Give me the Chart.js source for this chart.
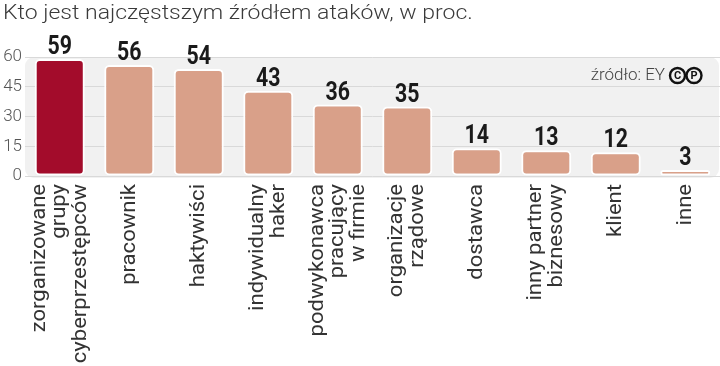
<!DOCTYPE html>
<html>
<head>
<meta charset="utf-8">
<script src="https://cdn.jsdelivr.net/npm/chart.js@4/dist/chart.umd.min.js"></script>
<style>
  html, body { margin: 0; padding: 0; background: #fff; }
  #wrap { width: 720px; height: 366px; }
</style>
</head>
<body>
<div id="wrap"><canvas id="chart"></canvas></div>
<script>
const title = 'Kto jest najczęstszym źródłem ataków, w proc.';
const source = 'źródło: EY';
const categories = [
    ['zorganizowane', 'grupy', 'cyberprzestępców'],
    ['pracownik'],
    ['haktywiści'],
    ['indywidualny', 'haker'],
    ['podwykonawca', 'pracujący', 'w firmie'],
    ['organizacje', 'rządowe'],
    ['dostawca'],
    ['inny partner', 'biznesowy'],
    ['klient'],
    ['inne']
];
const values = [59, 56, 54, 43, 36, 35, 14, 13, 12, 3];
const yTicks = [0, 15, 30, 45, 60];

const darkRed = '#a30c2b';
const salmon = '#d9a089';

// gray panel behind the plot, title, source note
const decorPlugin = {
    id: 'decor',
    beforeDraw(chart) {
        const { ctx, chartArea } = chart;
        ctx.save();
        ctx.fillStyle = '#f1f1f1';
        ctx.beginPath();
        ctx.roundRect(chartArea.left, chartArea.top, chartArea.right - chartArea.left - 1, chartArea.bottom - chartArea.top + 2, 9);
        ctx.fill();
        ctx.restore();
    },
    afterDraw(chart) {
        const { ctx, chartArea } = chart;
        ctx.save();
        ctx.fillStyle = '#3a3a3a';
        ctx.font = '300 20px Roboto';
        ctx.textBaseline = 'middle';
        ctx.textAlign = 'left';
        ctx.save();
        ctx.translate(3, 14);
        ctx.scale(1.15, 1);
        ctx.fillText(title, 0, 0);
        ctx.restore();

        ctx.font = '300 17px Roboto';
        ctx.textAlign = 'right';
        ctx.fillStyle = '#444';
        ctx.fillText(source, 665, 76);

        // circled C and P
        [['C', 677.5], ['P', 694]].forEach(([ch, cx]) => {
            ctx.beginPath();
            ctx.arc(cx, 75.5, 7.5, 0, Math.PI * 2);
            ctx.lineWidth = 2.4;
            ctx.strokeStyle = '#111';
            ctx.stroke();
            ctx.fillStyle = '#111';
            ctx.font = 'bold 11px Roboto';
            ctx.textAlign = 'center';
            ctx.fillText(ch, cx, 76);
        });

        // value labels
        const meta = chart.getDatasetMeta(0);
        ctx.fillStyle = '#1a1a1a';
        ctx.font = 'bold 26px Roboto';
        ctx.textAlign = 'center';
        ctx.textBaseline = 'alphabetic';
        meta.data.forEach((bar, i) => {
            ctx.save();
            ctx.translate(bar.x, bar.y - 5);
            ctx.scale(0.82, 1);
            ctx.fillText(values[i], 0, 0);
            ctx.restore();
        });

        // rotated category labels, centred on the tick
        const xScale = chart.scales.x;
        ctx.fillStyle = '#333';
        ctx.font = '21px Roboto';
        ctx.textAlign = 'right';
        ctx.textBaseline = 'middle';
        const lh = 20.5;
        categories.forEach((lines, i) => {
            const x = xScale.getPixelForValue(i);
            const start = x - (lines.length - 1) * lh / 2;
            lines.forEach((line, j) => {
                ctx.save();
                ctx.translate(start + j * lh, chartArea.bottom + 8);
                ctx.rotate(-Math.PI / 2);
                ctx.scale(1.05, 1);
                ctx.fillText(line, 0, 0);
                ctx.restore();
            });
        });
        ctx.restore();
    }
};

new Chart(document.getElementById('chart'), {
    type: 'bar',
    data: {
        labels: categories,
        datasets: [{
            data: values,
            backgroundColor: values.map((v, i) => i === 0 ? darkRed : salmon),
            borderColor: '#ffffff',
            borderWidth: 2,
            borderRadius: 5,
            borderSkipped: false,
            barPercentage: 0.72,
            categoryPercentage: 1
        }]
    },
    options: {
        responsive: true,
        maintainAspectRatio: false,
        animation: false,
        layout: { padding: { top: 57, bottom: 190, left: 0, right: 0 } },
        plugins: {
            legend: { display: false },
            tooltip: { enabled: false }
        },
        scales: {
            x: {
                display: false
            },
            y: {
                min: 0,
                max: 60,
                afterFit(scale) { scale.width = 25; },
                afterBuildTicks(scale) { scale.ticks = yTicks.map(v => ({ value: v })); },
                grid: { color: '#d9d9d9', drawTicks: false },
                border: { display: false },
                ticks: {
                    color: '#555',
                    padding: 3,
                    font: { family: 'Roboto', size: 17, weight: 300 }
                }
            }
        }
    },
    plugins: [decorPlugin]
});
</script>
</body>
</html>
